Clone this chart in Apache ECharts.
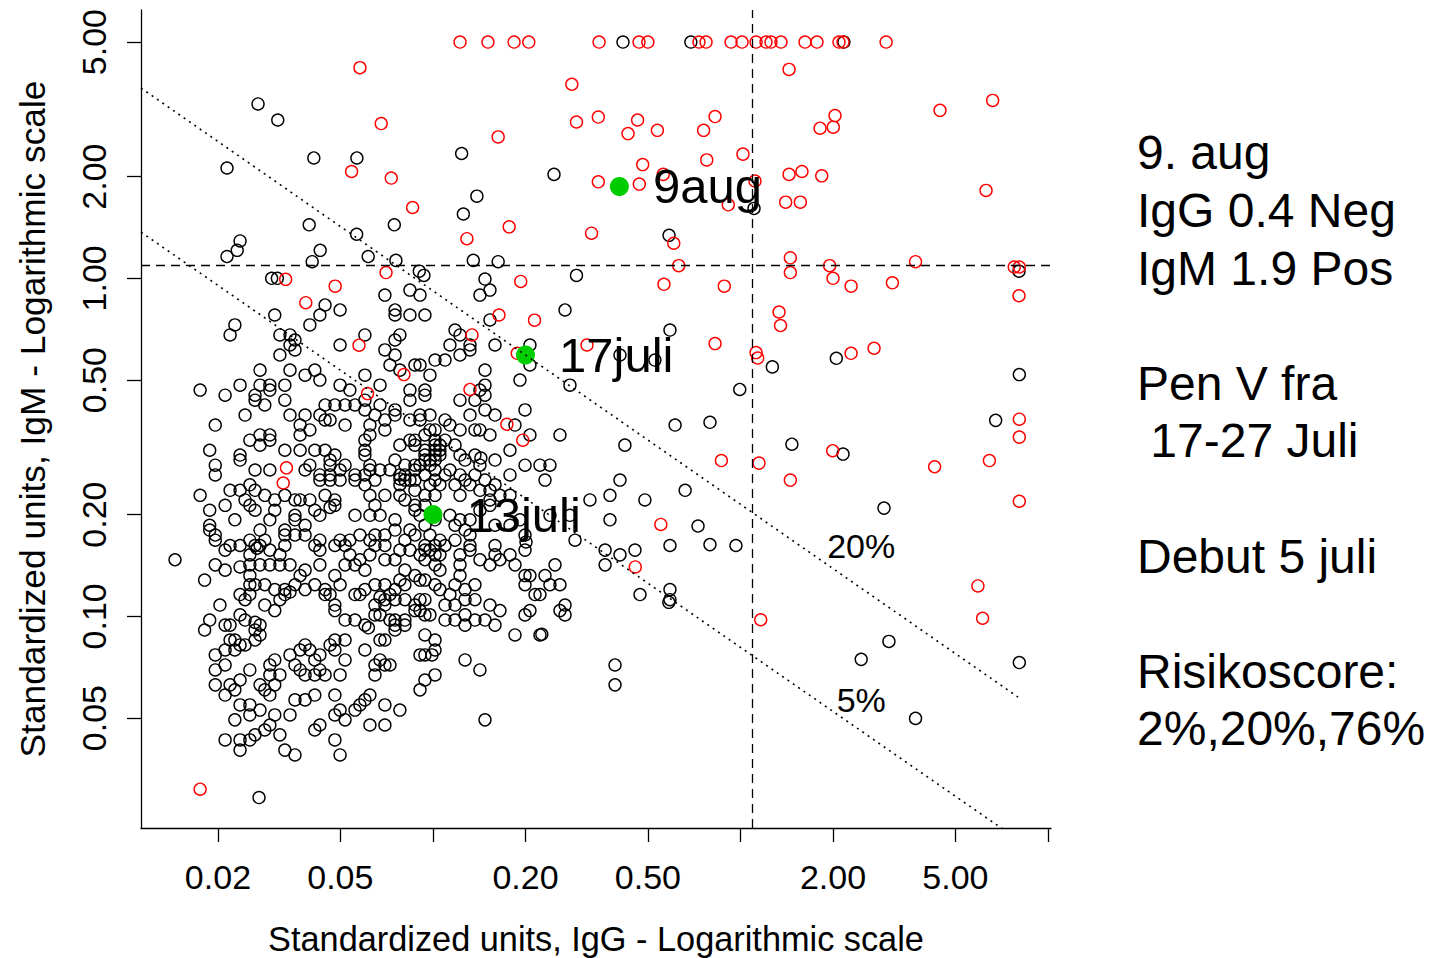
<!DOCTYPE html>
<html><head><meta charset="utf-8">
<script src="https://cdn.jsdelivr.net/npm/echarts@6/dist/echarts.min.js"></script>
<style>html,body{margin:0;padding:0;background:#fff}#c{width:1432px;height:958px}</style>
</head><body><div id="c"></div>
<script>
const FONT = '"Liberation Sans", Arial, Helvetica, sans-serif';
const xTickValues = [0.02, 0.05, 0.1, 0.2, 0.5, 1, 2, 5, 10];
const xLabelValues = [0.02, 0.05, 0.2, 0.5, 2, 5];
const yTickValues = [0.05, 0.1, 0.2, 0.5, 1, 2, 5];
const yLabelValues = [0.05, 0.1, 0.2, 0.5, 1, 2, 5];
const xRange = [0.01124, 10.23];
const yRange = [0.02365, 6.22];
const cutoffIgG = 1.09;
const cutoffIgM = 1.09;
const riskLine20 = [[0.01124, 3.655], [7.99, 0.0577]];
const riskLine5 = [[0.01124, 1.37], [7.12, 0.0235]];
const riskLabels = ['20%', '5%'];
const riskLabelIgG = [2.47, 2.47];
const riskLabelIgM = [0.1614, 0.0565];
const patientLabels = ['13juli', '17juli', '9aug'];
const patientIgG = [0.1, 0.2, 0.404];
const patientIgM = [0.2, 0.593, 1.87];
const infoLines = ['9. aug', 'IgG 0.4 Neg', 'IgM 1.9 Pos', '', 'Pen V fra', ' 17-27 Juli', '', 'Debut 5 juli', '', 'Risikoscore:', '2%,20%,76%'];

// black: [IgG, IgM]
const blackPoints = [
[.0698,.892],[.0842,.923],[.0908,.892],[.0446,.834],[.0499,.806],[.0429,.779],[.0306,.779],[.0227,.728],[.0219,.680],[.0398,.728],[.0753,.806],[.0842,.779],[.0942,.779],[.0753,.779],[.0318,.680],[.0343,.680],[.0356,.657],[.0343,.635],[.0356,.614],[.0318,.593],[.0499,.635],[.0601,.680],[.0781,.680],[.0753,.657],[.0698,.614],[.0753,.593],[.0725,.554],[.0781,.535],[.0874,.554],[.1016,.573],[.0978,.517],[.0274,.535],[.0343,.535],[.0413,.535],[.0384,.517],[.0429,.500],[.0236,.483],[.0175,.467],[.0211,.451],[.0274,.483],[.0295,.483],[.0330,.483],[.0295,.467],[.0264,.436],[.0264,.451],[.0284,.422],[.0330,.436],[.0499,.483],[.0537,.467],[.0601,.517],[.0673,.483],[.0842,.467],[.0942,.467],[.0942,.451],[.0842,.436],[.0601,.436],[.0673,.422],[.0753,.408],[.0753,.394],[.0908,.394],[.0978,.394],[.0842,.381],[.0245,.394],[.0196,.368],[.0343,.394],[.0384,.394],[.0370,.368],[.0398,.356],[.0370,.344],[.0429,.394],[.0446,.422],[.0480,.422],[.0446,.381],[.0463,.381],[.0518,.368],[.0518,.422],[.0558,.422],[.0601,.408],[.0648,.394],[.0624,.368],[.0624,.344],[.0698,.356],[.0698,.381],[.0188,.310],[.0254,.332],[.0274,.344],[.0295,.344],[.0274,.321],[.0295,.332],[.0330,.310],[.0370,.310],[.0413,.310],[.0446,.310],[.0480,.300],[.0601,.332],[.0601,.310],[.0601,.300],[.0781,.321],[.0874,.332],[.0942,.344],[.1016,.356],[.1016,.332],[.1016,.321],[.0236,.300],[.0236,.290],[.0196,.280],[.0196,.262],[.0264,.271],[.0295,.271],[.0384,.271],[.0398,.280],[.0429,.253],[.0463,.253],[.0463,.280],[.0463,.290],[.0499,.271],[.0518,.280],[.0558,.262],[.0624,.280],[.0624,.271],[.0673,.271],[.0725,.271],[.0781,.262],[.0811,.262],[.0842,.253],[.0908,.280],[.0874,.271],[.0942,.290],[.0978,.280],[.1016,.271],[.0942,.300],[.1054,.300],
[.0175,.228],[.0188,.206],[.0211,.213],[.0219,.236],[.0236,.236],[.0254,.245],[.0264,.236],[.0284,.228],[.0245,.221],[.0254,.213],[.0264,.206],[.0227,.193],[.0188,.186],[.0188,.180],[.0196,.174],[.0219,.162],[.0254,.168],[.0264,.162],[.0284,.168],[.0274,.180],[.0295,.193],[.0306,.206],[.0306,.221],[.0330,.228],[.0356,.221],[.0370,.221],[.0398,.221],[.0413,.206],[.0446,.228],[.0480,.221],[.0480,.213],[.0463,.210],[.0429,.199],[.0384,.186],[.0356,.193],[.0356,.199],[.0330,.180],[.0330,.174],[.0356,.174],[.0384,.174],[.0413,.162],[.0429,.168],[.0480,.162],[.0499,.168],[.0537,.168],[.0579,.174],[.0624,.168],[.0648,.174],[.0698,.174],[.0753,.180],[.0811,.168],[.0842,.180],[.0874,.174],[.0942,.186],[.0978,.174],[.1016,.162],[.0942,.162],[.0698,.162],[.0648,.162],[.0558,.199],[.0624,.199],[.0673,.199],[.0648,.213],[.0698,.228],[.0781,.228],[.0811,.221],[.0874,.213],[.0942,.228],[.1016,.228],[.0874,.206],[.0908,.199],[.0753,.193],[.0624,.228],[.0601,.245],[.0648,.253],[.0558,.253],[.0499,.253],[.0463,.262],[.0429,.262],[.0601,.262],[.0781,.255],[.0811,.253],[.0874,.253],[.0942,.262],[.1016,.253],[.0978,.245],[.0874,.236],[.0781,.245],[.0753,.290],[.0811,.280],[.0874,.280],[.1016,.300],[.1016,.310],[.0942,.310],[.0874,.321],[.0842,.332],[.0978,.290],
[.0196,.168],[.0211,.157],[.0236,.162],[.0254,.152],[.0268,.159],[.0274,.162],[.0295,.157],[.0318,.152],[.0330,.162],[.0343,.142],[.0318,.142],[.0295,.142],[.0274,.142],[.0254,.142],[.0236,.140],[.0211,.137],[.0196,.142],[.0181,.128],[.0145,.147],[.0254,.132],[.0264,.124],[.0284,.124],[.0306,.120],[.0330,.120],[.0343,.118],[.0330,.116],[.0318,.112],[.0306,.104],[.0284,.108],[.0254,.116],[.0254,.124],[.0236,.116],[.0245,.112],[.0203,.108],[.0236,.101],[.0245,.0975],[.0264,.0960],[.0274,.0942],[.0264,.0911],[.0274,.0881],[.0264,.0851],[.0245,.0823],[.0227,.0851],[.0219,.0851],[.0219,.0942],[.0211,.0942],[.0188,.0975],[.0181,.0911],[.0196,.0769],[.0211,.0795],[.0227,.0795],[.0236,.0823],[.0211,.0718],[.0196,.0694],[.0196,.0627],[.0211,.0585],[.0219,.0627],[.0236,.0648],[.0227,.0606],[.0236,.0547],[.0227,.0494],[.0254,.0547],[.0254,.0694],[.0274,.0627],[.0284,.0606],[.0295,.0585],[.0306,.0627],[.0318,.0671],[.0295,.0671],[.0295,.0718],[.0306,.0743],[.0254,.0511],[.0274,.0528],[.0295,.0477],[.0284,.0461],[.0318,.0446],[.0306,.0511],[.0343,.0511],[.0264,.0446],[.0254,.0431],[.0236,.0402],[.0236,.0431],[.0211,.0431],[.0330,.0402],[.0356,.0389],[.0356,.0566],[.0384,.0566],[.0413,.0585],[.0413,.0671],[.0446,.0671],[.0429,.0694],[.0384,.0671],[.0370,.0694],[.0356,.0718],[.0343,.0769],[.0370,.0795],[.0384,.0823],[.0398,.0795],[.0413,.0743],[.0429,.0769],[.0463,.0823],[.0480,.0795],[.0480,.0851],[.0518,.0851],[.0518,.0743],[.0499,.0671],[.0480,.0585],[.0499,.0528],[.0480,.0511],[.0518,.0494],[.0558,.0528],[.0579,.0547],[.0601,.0566],[.0624,.0585],[.0698,.0547],[.0781,.0528],[.0698,.0477],[.0624,.0477],[.0480,.0431],[.0499,.0389],[.0429,.0477],[.0413,.0461],[.0601,.0795],[.0648,.0718],[.0673,.0743],[.0698,.0718],[.0725,.0718],[.0648,.0671],[.0698,.0851],[.0673,.0851],[.0601,.0942],[.0673,.101],[.0725,.0975],[.0753,.0975],[.0811,.0942],[.0753,.0942],[.0811,.0975],[.0874,.104],[.0908,.104],[.0942,.101],[.0978,.101],[.0942,.0881],[.1016,.0851],[.1016,.0795],[.0908,.0769],[.0993,.0769],[.0942,.0648],[.0908,.0606],[.1016,.0671],[.0874,.108],[.0908,.112],[.0811,.112],[.0753,.112],[.0698,.112],[.0698,.108],[.0648,.108],[.0648,.101],[.0617,.0925],[.0558,.0975],[.0518,.0975],[.0480,.104],[.0480,.108],[.0463,.116],[.0446,.116],[.0446,.120],[.0480,.132],[.0499,.124],[.0518,.142],[.0558,.142],[.0601,.137],[.0648,.124],[.0698,.124],[.0753,.120],[.0781,.128],[.0811,.124],[.0908,.128],[.0942,.128],[.1016,.142],[.1016,.152],[.0942,.157],[.0908,.152],[.0842,.157],[.0781,.157],[.0753,.147],[.0698,.147],[.0624,.152],[.0579,.147],[.0537,.152],[.0518,.162],[.0429,.157],[.0429,.142],[.0384,.137],[.0370,.132],[.0356,.124],[.0384,.120],[.0413,.124],[.0558,.116],[.0579,.116],[.0601,.120],[.0673,.114],[.0725,.116],[.0811,.137],[.0874,.132],[.0753,.0911],
[.0978,.157],[.1054,.152],[.1095,.162],[.1225,.152],[.1225,.142],[.1225,.132],[.1370,.124],[.1272,.120],[.1180,.124],[.1136,.116],[.1272,.112],[.1370,.112],[.1533,.108],[.1592,.0942],[.1477,.0975],[.1272,.0942],[.1180,.0975],[.1095,.0975],[.0942,.0769],[.1095,.108],[.0942,.112],[.1016,.124],[.1054,.137],[.0942,.147],[.1054,.120],[.1180,.108],[.1272,.101],[.1370,.0975],[.1652,.104],[.1533,.142],[.1422,.147],[.1320,.157],[.1592,.152],[.1781,.152],[.1652,.147],[.1849,.142],[.1993,.132],[.2068,.132],[.2315,.132],[.2495,.142],[.1993,.124],[.2148,.116],[.2229,.116],[.1993,.101],[.2068,.104],[.2589,.104],[.2689,.108],[.2689,.101],[.2402,.124],[.2589,.124],[.1272,.0743],[.1422,.0694],[.1477,.0494],[.1849,.0881],[.2229,.0881],[.2260,.0885],[.391,.0718],[.391,.0627],[.363,.157],[.454,.157],[.4058,.152],[.363,.142],[.4714,.116],[.590,.120],[.590,.112],[.585,.110],[.590,.162],[.1993,.157],[.2008,.166],[.1592,.162],[.1320,.162],[.2898,.168],
[.1422,.892],[.1533,.923],[.1180,.703],[.1225,.680],[.1320,.635],[.1320,.614],[.1225,.593],[.1136,.635],[.1095,.573],[.0908,.554],[.1533,.753],[.1592,.635],[.1477,.535],[.1477,.483],[.1477,.451],[.1422,.467],[.1225,.436],[.1370,.436],[.1477,.408],[.1592,.394],[.1320,.394],[.1225,.356],[.1370,.356],[.1422,.356],[.1533,.344],[.1136,.368],[.1095,.381],[.0978,.356],[.0908,.381],[.1054,.321],[.1095,.332],[.1054,.310],[.1180,.321],[.1016,.290],[.1225,.300],[.1272,.290],[.1136,.271],[.1095,.262],[.1225,.262],[.1370,.300],[.1432,.294],[.1422,.280],[.1370,.262],[.1477,.253],[.1592,.290],[.1781,.262],[.1592,.245],[.1533,.236],[.1422,.236],[.1320,.245],[.1272,.253],[.1180,.245],[.1225,.228],[.1652,.228],[.1781,.228],[.1533,.221],[.1533,.213],[.1054,.245],[.0942,.213],[.1016,.193],[.1136,.199],[.1180,.186],[.1225,.193],[.1272,.180],[.1320,.174],[.1180,.168],[.1054,.168],[.1592,.186],[.1781,.186],[.1919,.193],[.1993,.174],[.1320,.193],[.1422,.206],
[.1993,.280],[.2229,.280],[.2402,.280],[.2315,.253],[.1781,.310],[.2589,.344],[.2068,.344],[.1849,.368],[.1993,.408],[.1919,.500],[.2068,.635],[.2068,.554],[.4058,.593],[.527,.573],[.2689,.806],[.2790,.483],[.2402,.199],[.2790,.199],[.421,.321],[.613,.368],[.4058,.253],[.3765,.228],[.489,.221],[.661,.236],[.3241,.221],[.3765,.193],[.590,.703],
[.0270,3.28],[.0313,2.94],[.0214,2.12],[.0410,2.27],[.0566,2.27],[.124,2.34],[.2476,2.03],[.139,1.75],[.1256,1.55],[.0396,1.44],[.0749,1.44],[.0565,1.35],[.0236,1.29],[.0231,1.21],[.0214,1.16],[.0430,1.21],[.0405,1.12],[.0616,1.16],[.0758,1.13],[.0903,1.05],[.0935,1.02],[.1353,1.13],[.163,1.12],[.293,1.02],[.0299,1.00],[.0312,1.00],[.1477,.995],[.586,1.34],[1.107,1.61],[.415,5],[.690,5],[2.17,5],[8.05,1.05],[1.27,.547],[2.05,.58],[8.07,.519],[.995,.469],[.796,.375],[6.76,.38],[1.47,.323],[2.156,.302],[2.93,.209],[.728,.185],[.796,.163],[.967,.162],[3.04,.0843],[2.47,.0746],[8.07,.073],[3.71,.0499],[.0272,.0291]
];

// red points with IgM capped at 5.00 (top row)
const redTopIgG = [.1225,.151,.1836,.205,.347,.468,.500,.733,.773,.932,1.012,1.124,1.211,1.257,1.355,1.622,1.774,2.092,2.156,2.976];
const redTopIgM = 5;
// other red points: [IgG, IgM]
const redPoints = [
[.0579,4.20],[.283,3.75],[.0679,2.87],[.293,2.90],[.345,3.00],[.163,2.62],[.0544,2.07],[.0732,1.98],[.345,1.93],[.0859,1.62],[.177,1.42],[.129,1.31],[.328,1.36],[.0704,1.04],[.0332,.993],[.0481,.948],[.193,.979],[.0386,.847],[1.439,4.15],[4.456,3.14],[6.61,3.36],[.463,2.94],[.431,2.68],[.537,2.74],[.759,2.74],[.827,3.01],[1.815,2.78],[2.004,2.80],[2.03,3.03],[.481,2.17],[.469,1.90],[.561,2.03],[.777,2.24],[1.019,2.33],[1.115,1.94],[.913,1.65],[1.439,2.03],[1.585,2.07],[1.838,2.01],[1.403,1.68],[1.566,1.68],[6.29,1.82],[.607,1.27],[.630,1.09],[.564,.96],[.886,.948],[1.453,1.15],[1.453,1.04],[1.95,1.09],[2.00,1.00],[2.29,.948],[3.12,.97],[3.71,1.12],[7.77,1.08],[8.07,1.08],[8.05,.888],[1.335,.795],[1.35,.725],[.827,.641],[1.124,.603],[1.138,.581],[2.29,.60],[2.72,.621],[8.07,.383],[8.07,.339],[1.995,.309],[.867,.289],[1.149,.284],[1.453,.253],[4.28,.277],[6.45,.289],[8.07,.219],[5.92,.123],[6.13,.0987],[1.164,.0977],[.551,.187],[.455,.140],[.0175,.0308],[.0575,.634],[.0805,.519],[.0613,.456],[.0334,.275],[.0326,.248],[.164,.779],[.214,.752],[.134,.680],[.317,.635],[.188,.600],[.132,.469],[.174,.370],[.196,.332]
];

const chart = echarts.init(document.getElementById('c'), null, {renderer: 'svg'});
const axisCommon = {
  type: 'log', logBase: 10,
  axisLine: {show: true, onZero: false, lineStyle: {color: '#000', width: 1.3}},
  splitLine: {show: false}, minorTick: {show: false}, minorSplitLine: {show: false},
  nameLocation: 'middle'
};
const openCircle = (color) => ({color: 'rgba(0,0,0,0)', borderColor: color, borderWidth: 1.4, opacity: 1});
const redAll = redTopIgG.map(x => [x, redTopIgM]).concat(redPoints);

chart.setOption({
  animation: false,
  backgroundColor: '#fff',
  grid: {left: 141, top: 10, width: 910, height: 818, containLabel: false, outerBoundsMode: 'none'},
  xAxis: Object.assign({}, axisCommon, {
    min: xRange[0], max: xRange[1],
    name: 'Standardized units, IgG - Logarithmic scale', nameGap: 94,
    nameTextStyle: {fontSize: 34.3, color: '#000', fontFamily: FONT},
    axisTick: {show: true, length: 14, customValues: xTickValues, lineStyle: {color: '#000', width: 1.3}},
    axisLabel: {customValues: xLabelValues, formatter: v => Number(v).toFixed(2), fontSize: 34, color: '#000', fontFamily: FONT, margin: 32}
  }),
  yAxis: Object.assign({}, axisCommon, {
    min: yRange[0], max: yRange[1],
    name: 'Standardized units, IgM - Logarithmic scale', nameGap: 91,
    nameTextStyle: {fontSize: 35.3, color: '#000', fontFamily: FONT},
    axisTick: {show: true, length: 14, customValues: yTickValues, lineStyle: {color: '#000', width: 1.3}},
    axisLabel: {customValues: yLabelValues, formatter: v => Number(v).toFixed(2), rotate: 90, fontSize: 34, color: '#000', fontFamily: FONT, margin: 30}
  }),
  graphic: [{
    type: 'text', left: 1137, top: 124, silent: true,
    style: {text: infoLines.join('\n'), fontSize: 48, fontFamily: FONT, lineHeight: 57.6, fill: '#000'}
  }],
  series: [
    {
      type: 'scatter', name: 'black', silent: true, symbol: 'circle', symbolSize: 12,
      itemStyle: openCircle('#000'), data: blackPoints,
      markLine: {
        silent: true, symbol: ['none', 'none'], label: {show: false},
        lineStyle: {color: '#000', width: 1.3, type: [9, 6], opacity: 1},
        data: [{xAxis: cutoffIgG}, {yAxis: cutoffIgM}]
      }
    },
    {
      type: 'scatter', name: 'red', silent: true, symbol: 'circle', symbolSize: 12,
      itemStyle: openCircle('#ff0000'), data: redAll
    },
    {
      type: 'line', name: 'risk20', silent: true, showSymbol: false, symbol: 'none',
      lineStyle: {color: '#000', width: 1.6, type: [2, 4.5], opacity: 1}, data: riskLine20
    },
    {
      type: 'line', name: 'risk5', silent: true, showSymbol: false, symbol: 'none',
      lineStyle: {color: '#000', width: 1.6, type: [2, 4.5], opacity: 1}, data: riskLine5
    },
    {
      type: 'scatter', name: 'riskLabels', silent: true, symbolSize: 1,
      itemStyle: {color: 'rgba(0,0,0,0)', opacity: 1},
      label: {show: true, position: 'inside', formatter: '{b}', fontSize: 34, color: '#000', fontFamily: FONT, textBorderWidth: 0},
      data: riskLabels.map((t, i) => ({name: t, value: [riskLabelIgG[i], riskLabelIgM[i]]}))
    },
    {
      type: 'scatter', name: 'patient', silent: true, symbol: 'circle', symbolSize: 19,
      itemStyle: {color: '#00cd00', opacity: 1},
      label: {show: true, position: 'right', distance: 24, formatter: '{b}', fontSize: 49, color: '#000', fontFamily: FONT, textBorderWidth: 0},
      data: patientLabels.map((t, i) => ({name: t, value: [patientIgG[i], patientIgM[i]]}))
    }
  ]
});
</script>
</body></html>
